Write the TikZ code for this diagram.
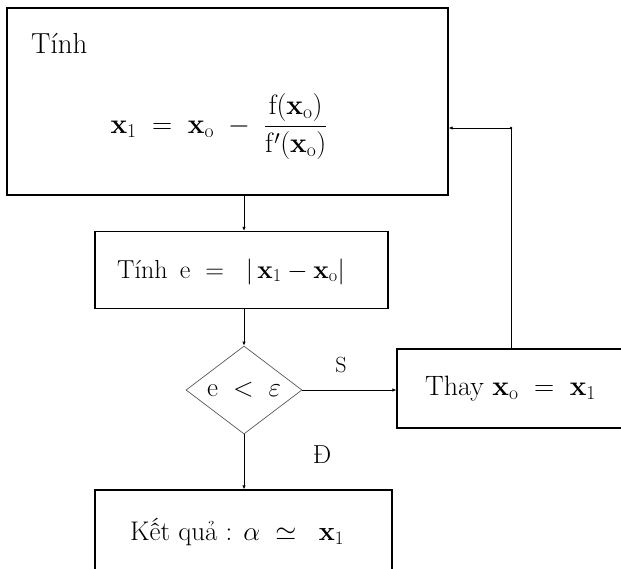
\documentclass[tikz,border=0pt]{standalone}
\usepackage{fix-cm}
\usetikzlibrary{shapes.geometric,arrows.meta}
\begin{document}
\begin{tikzpicture}[x=1pt,y=-1pt,
  box/.style={draw,line width=1.3pt,inner sep=0pt},
  txt/.style={inner sep=0pt,font=\fontsize{26}{31}\selectfont},
  dec/.style={draw=black!65,line width=0.7pt,shape=diamond,aspect=1.35,inner sep=0pt,
    minimum width=116pt,minimum height=88pt,font=\fontsize{27}{32}\selectfont},
  conn/.style={line width=0.8pt,-{Latex[length=4pt,width=3.5pt]}}]
\clip (0,0) rectangle (621,568);
% boxes
\node[box,minimum width=441pt,minimum height=187pt] (top) at (227.5,101.5) {};
\node[txt,anchor=base west,font=\fontsize{29}{34}\selectfont] (tinh) at (31,53) {Tính};
\node[txt,anchor=base,font=\fontsize{28}{34}\selectfont] (form) at (219,133)
  {$\mathbf{x}_1 \;=\; \mathbf{x}_{\mathrm{o}} \;-\; \displaystyle\frac{\mathrm{f}(\mathbf{x}_{\mathrm{o}})}{\mathrm{f}'(\mathbf{x}_{\mathrm{o}})}$};
\node[box,minimum width=293pt,minimum height=77pt] (b2) at (241.5,270) {};
\node[txt,anchor=base west] (b2t) at (117,278) {Tính\, e\; $=\;\; |\,\mathbf{x}_1 - \mathbf{x}_{\mathrm{o}}|$};
\node[dec] (d) at (244,390) {$\mathrm{e} \;<\; \varepsilon$};
\node[box,minimum width=240pt,minimum height=79pt] (thay) at (517,388.5) {};
\node[txt,anchor=base west,font=\fontsize{28}{33}\selectfont] (thayt) at (425,395) {Thay $\mathbf{x}_{\mathrm{o}} \;=\; \mathbf{x}_1$};
\node[box,minimum width=297pt,minimum height=120pt] (res) at (243.5,550) {};
\node[txt,anchor=base west,font=\fontsize{27}{32}\selectfont] (rest) at (130,540) {Kết quả : $\alpha \;\simeq\;\; \mathbf{x}_1$};
\node[txt,anchor=base,font=\fontsize{22}{26}\selectfont] (s) at (341,372) {S};
\node[txt,anchor=base,font=\fontsize{26}{30}\selectfont] (dd) at (322,463) {Đ};
% connectors
\coordinate (c) at (511,128);
\draw[conn] (d.north |- top.south) -- (d.north |- b2.north);
\draw[conn] (b2.south -| d.north) -- (d.north);
\draw[conn] (d.south) -- (res.north -| d.south);
\draw[conn] (d.east) -- (thay.west |- d.east);
\draw[conn] (thay.north -| c) -- (c) -- (top.east |- c);
\fill (c) circle (1.3pt);
\end{tikzpicture}
\end{document}
